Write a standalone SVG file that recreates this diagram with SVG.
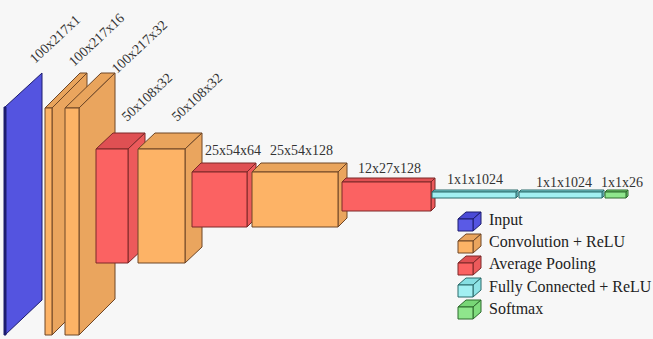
<svg xmlns="http://www.w3.org/2000/svg" width="653" height="339" viewBox="0 0 653 339">
<style>
.bg{fill:#f7f7f7}
.lbl{font-family:"Liberation Serif","Times New Roman",serif;font-size:14px;fill:#333;stroke:none}
.leg{font-family:"Liberation Serif","Times New Roman",serif;font-size:16px;fill:#222;stroke:none}
.o polygon,.o rect{stroke:#6e4626;stroke-width:1;stroke-linejoin:round}
.o .f{fill:#fdb366}.o .t{fill:#e9a45c}.o .s{fill:#eaa55e}
.r polygon,.r rect{stroke:#7c2828;stroke-width:1;stroke-linejoin:round}
.r .f{fill:#fb6262}.r .t{fill:#df5053}.r .s{fill:#ec5a5b}
.b polygon,.b rect{stroke:#1c1c6e;stroke-width:1;stroke-linejoin:round}
.b .f{fill:#5a5ae6}.b .t{fill:#4a4ad6}.b .s{fill:#5454e0}
.c polygon,.c rect{stroke:#2a6a6a;stroke-width:1;stroke-linejoin:round}
.c .f{fill:#a2f0f2}.c .t{fill:#86dfe2}.c .s{fill:#8ee4e6}
.g polygon,.g rect{stroke:#2c6a2c;stroke-width:1;stroke-linejoin:round}
.g .f{fill:#8fe68c}.g .t{fill:#78d676}.g .s{fill:#80dc7e}
</style>
<rect class="bg" x="0" y="0" width="653" height="339"/>
<g id="connectors"/>

<g id="input" class="b">
  <polygon class="s" points="5,107 42,73 42,300 5,335"/>
  <rect x="4" y="107" width="2" height="228" fill="#1c1c6e"/>
  <text class="lbl" transform="translate(35,64) rotate(-43)">100x217x1</text>
</g>

<g id="conv1" class="o">
  <polygon class="t" points="45,108 52,108 87,73 80,73"/>
  <polygon class="s" points="52,108 87,73 87,300 52,335"/>
  <rect class="f" x="45" y="108" width="7" height="227"/>
  <text class="lbl" transform="translate(74,67) rotate(-43)">100x217x16</text>
</g>

<g id="conv2" class="o">
  <polygon class="t" points="65,108 79,108 115,73 101,73"/>
  <polygon class="s" points="79,108 115,73 115,299 79,335"/>
  <rect class="f" x="65" y="108" width="14" height="227"/>
  <text class="lbl" transform="translate(117,74) rotate(-43)">100x217x32</text>
</g>

<g id="pool1" class="r">
  <polygon class="t" points="96,149 128,149 145,133 113,133"/>
  <polygon class="s" points="128,149 145,133 145,247 128,263"/>
  <rect class="f" x="96" y="149" width="32" height="114"/>
  <text class="lbl" transform="translate(127,122) rotate(-43)">50x108x32</text>
</g>

<g id="conv3" class="o">
  <polygon class="t" points="138,149 185,149 202,133 155,133"/>
  <polygon class="s" points="185,149 202,133 202,247 185,263"/>
  <rect class="f" x="138" y="149" width="47" height="114"/>
  <text class="lbl" transform="translate(177,122) rotate(-43)">50x108x32</text>
</g>

<g id="pool2" class="r">
  <polygon class="t" points="192,172 247,172 256,163 201,163"/>
  <polygon class="s" points="247,172 256,163 256,218 247,227"/>
  <rect class="f" x="192" y="172" width="55" height="55"/>
  <text class="lbl" x="205" y="155">25x54x64</text>
</g>

<g id="conv4" class="o">
  <polygon class="t" points="252,172 338,172 347,163 261,163"/>
  <polygon class="s" points="338,172 347,163 347,218 338,227"/>
  <rect class="f" x="252" y="172" width="86" height="55"/>
  <text class="lbl" x="270" y="155">25x54x128</text>
</g>

<g id="pool3" class="r">
  <polygon class="t" points="342,182 431,182 435,178 346,178"/>
  <polygon class="s" points="431,182 435,178 435,207 431,211"/>
  <rect class="f" x="342" y="182" width="89" height="29"/>
  <text class="lbl" x="358" y="173">12x27x128</text>
</g>

<g id="fc1" class="c">
  <polygon class="t" points="432,192 516,192 518,190 434,190"/>
  <polygon class="s" points="516,192 518,190 518,196 516,198"/>
  <rect class="f" x="432" y="192" width="84" height="6"/>
  <text class="lbl" x="447" y="184">1x1x1024</text>
</g>

<g id="fc2" class="c">
  <polygon class="t" points="519,192 602,192 604,190 521,190"/>
  <polygon class="s" points="602,192 604,190 604,196 602,198"/>
  <rect class="f" x="519" y="192" width="83" height="6"/>
  <text class="lbl" x="536" y="187">1x1x1024</text>
</g>

<g id="softmax" class="g">
  <polygon class="t" points="605,192 626,192 628,190 607,190"/>
  <polygon class="s" points="626,192 628,190 628,196 626,198"/>
  <rect class="f" x="605" y="192" width="21" height="6"/>
  <text class="lbl" x="601" y="187">1x1x26</text>
</g>

<g id="legend">
  <g id="legend-input" class="b">
    <polygon class="t" points="458,219 473,219 481,212 466,212"/>
    <polygon class="s" points="473,219 481,212 481,224 473,231"/>
    <rect class="f" x="458" y="219" width="15" height="12"/>
    <text class="leg" x="489" y="225">Input</text>
  </g>
  <g id="legend-conv" class="o">
    <polygon class="t" points="458,241 473,241 481,234 466,234"/>
    <polygon class="s" points="473,241 481,234 481,246 473,253"/>
    <rect class="f" x="458" y="241" width="15" height="12"/>
    <text class="leg" x="489" y="247">Convolution + ReLU</text>
  </g>
  <g id="legend-pool" class="r">
    <polygon class="t" points="458,263 473,263 481,256 466,256"/>
    <polygon class="s" points="473,263 481,256 481,268 473,275"/>
    <rect class="f" x="458" y="263" width="15" height="12"/>
    <text class="leg" x="489" y="269">Average Pooling</text>
  </g>
  <g id="legend-fc" class="c">
    <polygon class="t" points="458,285 473,285 481,278 466,278"/>
    <polygon class="s" points="473,285 481,278 481,290 473,297"/>
    <rect class="f" x="458" y="285" width="15" height="12"/>
    <text class="leg" x="489" y="292">Fully Connected + ReLU</text>
  </g>
  <g id="legend-softmax" class="g">
    <polygon class="t" points="458,307 473,307 481,300 466,300"/>
    <polygon class="s" points="473,307 481,300 481,312 473,319"/>
    <rect class="f" x="458" y="307" width="15" height="12"/>
    <text class="leg" x="489" y="314">Softmax</text>
  </g>
</g>
</svg>
